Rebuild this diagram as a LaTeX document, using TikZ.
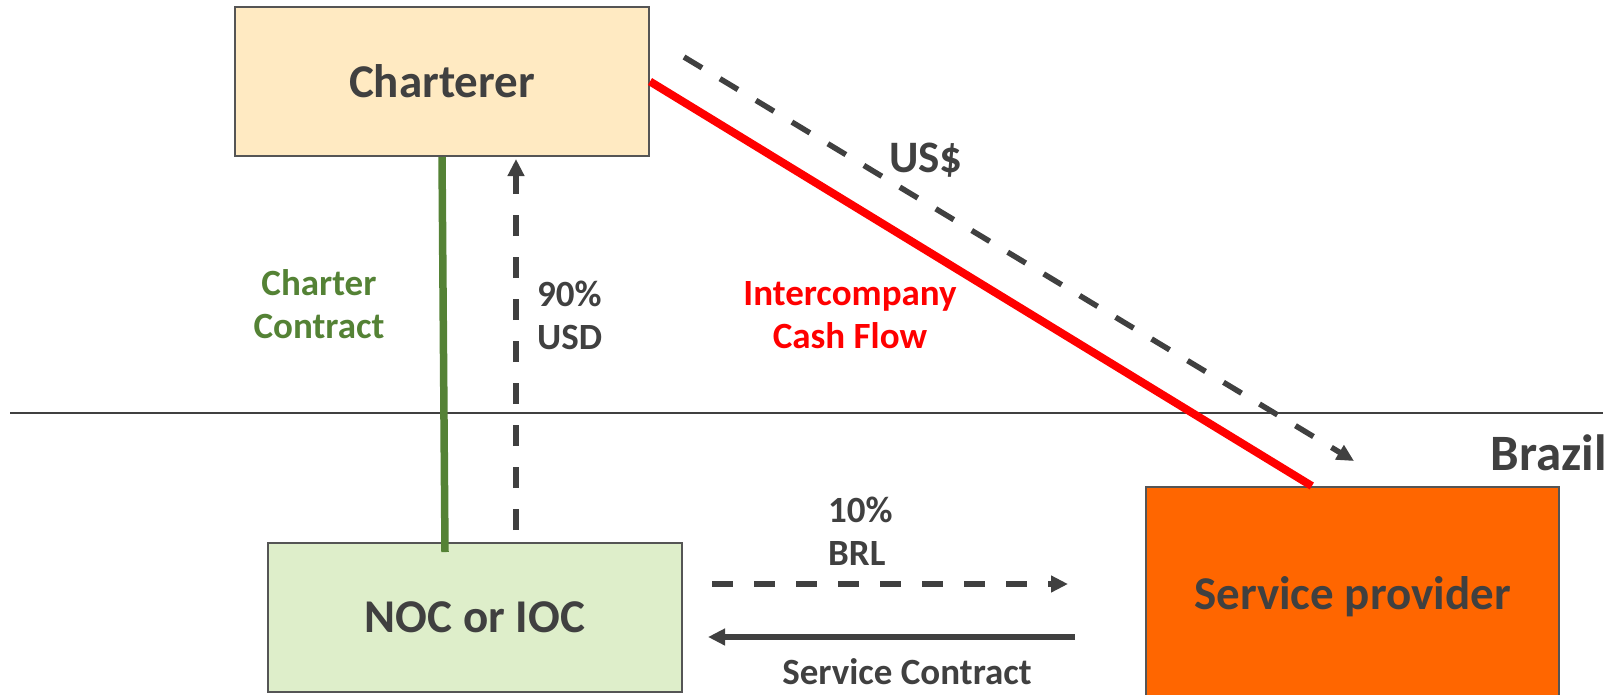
\documentclass[tikz,border=0pt]{standalone}
\usepackage{fontspec}
\setmainfont{Carlito}
\usetikzlibrary{arrows.meta,calc}

\definecolor{ink}{RGB}{64,64,64}
\definecolor{boxline}{RGB}{85,85,85}
\definecolor{peach}{RGB}{255,234,194}
\definecolor{palegreen}{RGB}{222,238,202}
\definecolor{vivid}{RGB}{255,102,0}
\definecolor{leaf}{RGB}{84,130,53}
\definecolor{alert}{RGB}{255,0,0}

\newcommand{\fs}[1]{\fontsize{#1}{43}\selectfont\bfseries}

\tikzset{
  party/.style={draw=boxline, line width=2pt, inner sep=0pt, text=ink,
    minimum width=414pt, font=\fs{47}},
  lbl/.style={inner sep=0pt, text=ink, font=\fs{37}},
  money/.style={draw=ink, line width=5.5pt, dash pattern=on 21pt off 21pt,
    -{Triangle[length=17pt,width=16pt]}},
  contract/.style={draw=ink, line width=5.5pt, -{Triangle[length=17pt,width=16pt]}},
}

\begin{document}
\begin{tikzpicture}[x=1pt, y=-1pt]
\useasboundingbox (0,0) rectangle (1621,694);
\clip (0,0) rectangle (1621,694);

% border line separating Brazil from abroad
\draw[ink, line width=2.5pt] (10,413) -- (1603,413);
\node[anchor=base east, inner sep=0pt, text=ink, font=\fs{51}] (brazil) at (1607,470) {Brazil};

% parties
\node[party, fill=peach, minimum height=149pt] (chart) at (442,81.5) {Charterer};
\node[party, fill=palegreen, minimum height=149pt] (noc) at (475,617.5) {NOC or IOC};
\node[party, fill=vivid, minimum width=413pt, minimum height=220pt] (sp) at (1352.5,597) {Service provider};

% charter contract
\coordinate (greenEnd) at (445,552);
\draw[leaf, line width=7.5pt] (chart.south) -- (greenEnd);
\node[lbl, text=leaf, align=center, anchor=north] (cc) at (319,269) {Charter\\Contract};

% 90% USD payment
\coordinate (usdFrom) at (516,530);
\draw[money] (usdFrom) -- ($(usdFrom |- chart.south)+(0,2)$);
\node[lbl, align=left, anchor=north west] (usd) at (537,281) {90\%\\USD};

% intercompany cash flow
\coordinate (redEnd) at ($(sp.north west)!0.402!(sp.north east)$);
\draw[alert, line width=8pt] (chart.east) -- (redEnd);
\node[lbl, text=alert, align=center, anchor=north] (icf) at (850,281) {Intercompany\\Cash Flow};

% US$ flow
\coordinate (usFrom) at (684,57);
\coordinate (usTo) at (1354,461);
\draw[money] (usFrom) -- (usTo);
\node[inner sep=0pt, text=ink, font=\fs{45}, anchor=base] (uss) at (926,172) {US\$};

% 10% BRL payment
\coordinate (brlFrom) at (712,584);
\coordinate (brlTo) at (1068,584);
\draw[money] (brlFrom) -- (brlTo);
\node[lbl, align=left, anchor=north west] (brl) at (828,497) {10\%\\BRL};

% service contract
\coordinate (scFrom) at (1075,637);
\coordinate (scTo) at (708,637);
\draw[contract] (scFrom) -- (scTo);
\node[lbl, anchor=base] (sc) at (907,684) {Service Contract};
\end{tikzpicture}
\end{document}
